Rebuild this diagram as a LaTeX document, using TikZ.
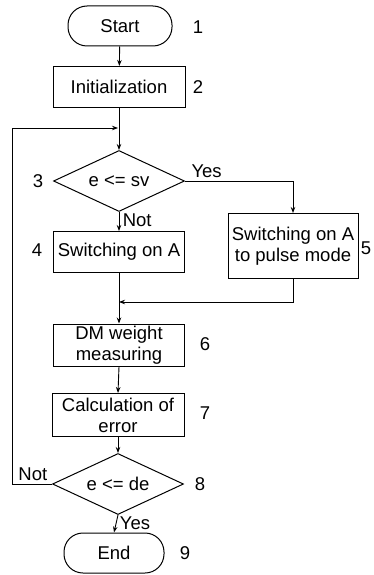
\documentclass[tikz,border=0pt]{standalone}
\usepackage{fontspec}
\setmainfont{Liberation Sans}
\usepackage{tikz}
\usetikzlibrary{shapes.geometric,arrows.meta}
\tikzset{
  txt/.style={font=\fontsize{18.5}{21}\selectfont},
  blok/.style={txt,draw,line width=1pt,rectangle,align=center,inner sep=1pt},
  term/.style={txt,draw,line width=1pt,rectangle,rounded corners=19pt,minimum width=104pt,minimum height=40pt},
  cond/.style={txt,draw,line width=1pt,diamond,aspect=2.2,minimum width=131pt,minimum height=61pt,inner sep=0pt},
  nr/.style={txt},
  line/.style={line width=0.9pt,-{Stealth[length=6pt,width=4.5pt]}}
}

\begin{document}
\begin{tikzpicture}[x=1pt,y=-1pt]
\useasboundingbox (0,0) rectangle (374,575);
% ---- bloki ----
\node[term] (start) at (120,26) {Start};
\node[blok,minimum width=132pt,minimum height=41pt] (init) at (119,87) {Initialization};
\node[cond] (d3) at (119,181) {e <= sv};
\node[blok,minimum width=131pt,minimum height=41pt] (sw) at (119,252) {Switching on A};
\node[blok,minimum width=130pt,minimum height=65pt] (pulse) at (293,246) {Switching on A\\to pulse mode};
\node[blok,minimum width=131pt,minimum height=42pt] (dm) at (119,345) {DM weight\\measuring};
\node[blok,minimum width=132pt,minimum height=43pt] (calc) at (118,415) {Calculation of\\error};
\node[cond] (d8) at (118,484) {e <= de};
\node[term,minimum width=100pt] (end) at (114,553) {End};
% numery
\node[nr] (n1) at (198,27) {1};
\node[nr] (n2) at (198,87) {2};
\node[nr] (n3) at (38,181) {3};
\node[nr] (n4) at (37,250) {4};
\node[nr] (n5) at (366,248) {5};
\node[nr] (n6) at (205,344) {6};
\node[nr] (n7) at (205,413) {7};
\node[nr] (n8) at (200,484) {8};
\node[nr] (n9) at (185,553) {9};
% punkty pomocnicze
\coordinate (join) at (119,302);
\coordinate (loop) at (118,128);
\coordinate (back) at (12,128);
% ---- polaczenia ----
\draw[line] (start) -- (init);
\draw[line] (init) -- (d3);
\draw[line] (d3.east) -- node[txt,above,pos=0.2] {Yes} (d3.east -| pulse) -- (pulse.north);
\draw[line] (d3.south) -- node[txt,right,pos=0.45] {Not} (sw.north);
\draw[line] (sw.south) -- (dm.north);
\draw[line] (pulse.south) |- (join);
\draw[line] (dm.south) -- (calc.north);
\draw[line] (calc.south) -- (d8.north);
\draw[line] (d8.west) -- node[txt,above,pos=0.48] {Not} (d8.west -| back) |- (loop);
\draw[line] (d8.south) -- node[txt,right,pos=0.45] {Yes} (end.north);
\end{tikzpicture}
\end{document}
